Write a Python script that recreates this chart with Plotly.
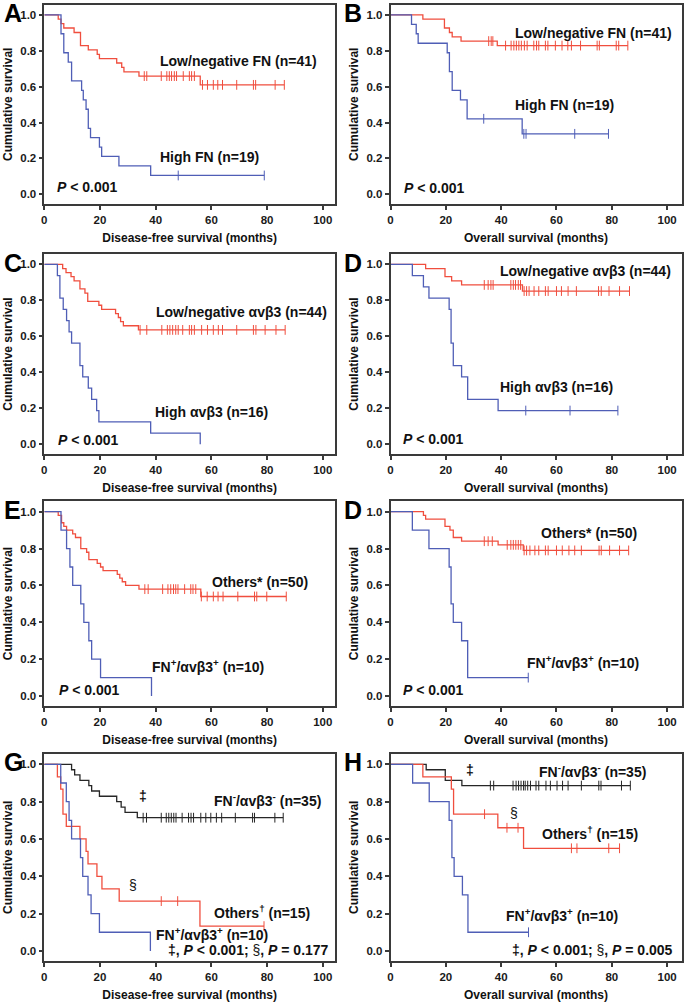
import numpy as np
import plotly.graph_objects as go

# ---------------- data ----------------
# Panel A: disease-free survival by FN
A_low_t = [5, 6, 7, 10.7, 13, 15.8, 19, 19.8, 26, 27.8, 28.6, 34, 56]
A_low_s = [0.976, 0.951, 0.927, 0.902, 0.829, 0.805, 0.780, 0.756, 0.732, 0.707, 0.683, 0.659, 0.610]
A_low_c = [35.9, 36.8, 42.0, 44.0, 44.9, 45.7, 46.7, 47.5, 49.9, 52.1, 52.9, 53.9, 56.8, 58.6,
           60.7, 62.3, 64.0, 69.1, 75.1, 75.9, 82.9, 86.2]
A_high_t = [6, 7, 8.6, 9.8, 13.4, 14, 15, 15.8, 16.6, 19.8, 20.6, 26.8, 38.2]
A_high_s = [0.895, 0.789, 0.737, 0.632, 0.579, 0.526, 0.474, 0.368, 0.316, 0.263, 0.211, 0.158, 0.105]
A_high_c = [48.1, 79.0]

# Panel B: overall survival by FN
B_low_t = [11.7, 19.5, 21.3, 22.3, 25.5, 38.6]
B_low_s = [0.976, 0.927, 0.902, 0.878, 0.854, 0.829]
B_low_c = [35.5, 36.4, 37.0, 41.6, 43.6, 44.6, 45.5, 46.4, 47.3, 48.4, 49.4, 51.8, 52.8, 53.6,
           56.0, 56.9, 59.6, 62.0, 64.1, 65.4, 68.7, 74.7, 75.5, 81.6, 82.5, 85.8]
B_high_t = [7.6, 9.3, 10, 20.5, 21.3, 22.3, 25.3, 27.7, 47.6]
B_high_s = [0.947, 0.895, 0.842, 0.789, 0.684, 0.579, 0.526, 0.421, 0.337]
B_high_c = [33.7, 48.2, 49.0, 66.6, 78.8]

# Panel C: disease-free survival by avb3
C_low_t = [6.6, 7.8, 9.6, 10.7, 12.8, 14.6, 15.6, 19.6, 20.6, 25.6, 26.6, 27.4, 28.4, 33.8]
C_low_s = [0.977, 0.955, 0.932, 0.909, 0.864, 0.841, 0.795, 0.773, 0.750, 0.727, 0.705, 0.682, 0.659, 0.636]
C_low_c = [34.4, 36.8, 42.2, 44.2, 45.1, 46.1, 47.2, 48.1, 49.7, 52.1, 52.9, 53.9, 56.5, 58.6,
           60.7, 62.5, 64.0, 69.1, 75.1, 76.0, 79.3, 83.2, 86.5]
C_high_t = [4.7, 5.6, 6.8, 8.0, 8.9, 9.8, 12.8, 13.8, 15.8, 17.0, 18.8, 19.6, 38.2, 56.0]
C_high_s = [0.9375, 0.8125, 0.75, 0.6875, 0.625, 0.5625, 0.4375, 0.375, 0.3125, 0.25, 0.1875, 0.125, 0.0625, 0.0]
C_high_c = []

# Panel D: overall survival by avb3
D_low_t = [12.7, 19.7, 22.1, 25.7, 47.7]
D_low_s = [0.977, 0.932, 0.909, 0.886, 0.852]
D_low_c = [33.9, 35.3, 36.3, 37.1, 43.5, 44.4, 45.2, 46.2, 47.0, 48.3, 49.2, 50.1, 51.9, 53.6,
           56.0, 57.0, 60.0, 61.8, 64.2, 67.2, 75.2, 76.2, 79.0, 82.8, 86.4]
D_high_t = [7.9, 11.9, 13.9, 21.2, 21.9, 22.7, 25.7, 27.9, 38.9]
D_high_s = [0.9375, 0.875, 0.8125, 0.75, 0.5625, 0.4375, 0.375, 0.25, 0.1875]
D_high_c = [48.9, 64.9, 82.2]

# Panel E: disease-free survival, FN+/avb3+ vs others
E_oth_t = [5.0, 6.2, 7.0, 8.0, 10.2, 11.2, 13.1, 15.2, 16.0, 19.0, 20.2, 21.1, 26.2, 27.1, 28.0, 29.2, 34.0, 56.2]
E_oth_s = [0.98, 0.94, 0.92, 0.90, 0.88, 0.86, 0.80, 0.78, 0.74, 0.72, 0.70, 0.68, 0.66, 0.64, 0.62, 0.60, 0.58, 0.54]
E_oth_c = [36.1, 37.3, 42.5, 44.4, 45.4, 46.4, 47.2, 48.0, 50.4, 52.6, 53.4, 54.4, 56.4, 58.5,
           60.7, 62.4, 64.2, 69.5, 75.5, 76.3, 79.9, 86.9]
E_fn_t = [6.0, 8.0, 9.2, 10.2, 13.1, 14.2, 16.0, 17.0, 20.2, 38.5]
E_fn_s = [0.9, 0.8, 0.7, 0.6, 0.5, 0.4, 0.3, 0.2, 0.1, 0.0]
E_fn_c = []

# Panel F (labelled "D" in the source): overall survival, FN+/avb3+ vs others
F_oth_t = [11.9, 12.7, 19.7, 21.5, 22.7, 25.7, 38.9, 48.0]
F_oth_s = [0.98, 0.96, 0.92, 0.90, 0.86, 0.84, 0.82, 0.79]
F_oth_c = [33.9, 35.3, 36.8, 42.2, 43.5, 44.4, 45.3, 46.2, 47.1, 48.3, 49.2, 50.4, 52.2, 53.6,
           56.0, 57.0, 60.0, 62.1, 64.5, 66.6, 69.0, 75.4, 76.2, 79.2, 82.8, 86.1]
F_fn_t = [7.9, 13.9, 21.2, 21.9, 22.7, 25.7, 27.9]
F_fn_s = [0.9, 0.8, 0.7, 0.5, 0.4, 0.3, 0.1]
F_fn_c = [49.8]

# Panel G: disease-free survival, three groups
G_neg_t = [9.8, 10.9, 12.8, 16.0, 17.0, 19.8, 26.0, 27.6, 29.0, 33.4]
G_neg_s = [0.971, 0.943, 0.914, 0.886, 0.857, 0.829, 0.800, 0.771, 0.743, 0.714]
G_neg_c = [35.5, 36.7, 42.0, 43.8, 44.7, 45.6, 46.5, 47.3, 49.5, 51.8, 52.7, 53.6, 56.2, 58.0,
           59.8, 61.8, 63.7, 68.6, 74.8, 75.5, 82.8, 85.8]
G_oth_t = [4.7, 5.9, 6.7, 7.9, 12.8, 15.0, 15.7, 18.9, 20.7, 26.9, 55.9]
G_oth_s = [0.933, 0.867, 0.733, 0.667, 0.600, 0.533, 0.467, 0.400, 0.333, 0.267, 0.133]
G_oth_c = [42.0, 47.9, 78.9]
G_fn_t = [5.9, 7.9, 8.9, 9.8, 13.0, 13.8, 15.7, 16.8, 19.8, 38.1]
G_fn_s = [0.9, 0.8, 0.7, 0.6, 0.5, 0.4, 0.3, 0.2, 0.1, 0.0]
G_fn_c = []

# Panel H: overall survival, three groups
H_neg_t = [12.9, 19.8, 25.8]
H_neg_s = [0.971, 0.914, 0.886]
H_neg_c = [36.1, 37.3, 44.3, 45.4, 46.3, 47.2, 48.1, 48.7, 49.6, 50.6, 52.6, 53.6, 56.2, 57.8,
           60.2, 62.2, 64.2, 69.0, 75.3, 76.1, 83.5, 86.7]
H_oth_t = [11.7, 22.0, 22.8, 38.8, 48.1]
H_oth_s = [0.933, 0.867, 0.733, 0.660, 0.550]
H_oth_c = [34.0, 42.1, 46.1, 65.4, 67.4, 78.9, 82.8]
H_fn_t = [8.0, 14.0, 21.2, 22.2, 23.0, 26.0, 28.0]
H_fn_s = [0.9, 0.8, 0.7, 0.5, 0.4, 0.3, 0.1]
H_fn_c = [49.9]

x_ticks = [0, 20, 40, 60, 80, 100]
y_ticks = [0.0, 0.2, 0.4, 0.6, 0.8, 1.0]
y_ticklabels = ["0.0", "0.2", "0.4", "0.6", "0.8", "1.0"]
panel_letters = ["A", "B", "C", "D", "E", "D", "G", "H"]
DFS = "Disease-free survival (months)"
OS = "Overall survival (months)"
Y_TITLE = "Cumulative survival"

# ---------------- style ----------------
FONT = "Arial, 'Liberation Sans', Helvetica, sans-serif"
RED = "#F04E3E"
BLUE = "#4F5EB6"
BLACK = "#262626"
AXC = "#3a3a3a"
W, H = 685, 1003

col_px = [(44.3, 335.0), (390.5, 681.5)]
row_px = [(4.5, 204.0), (254.0, 454.0), (501.0, 706.0), (753.5, 961.0)]
x_hi = [104.4, 105.2]
Y_RANGE = [-0.054, 1.058]

FNP = "FN<sup>+</sup>/αvβ3<sup>+</sup> (n=10)"
FNN = "FN<sup>-</sup>/αvβ3<sup>-</sup> (n=35)"
PV = "<b><i>P</i> < 0.001</b>"

panels = [
    dict(xt=DFS, curves=[(A_low_t, A_low_s, A_low_c, RED), (A_high_t, A_high_s, A_high_c, BLUE)],
         labels=[("<b>Low/negative FN (n=41)</b>", 41.0, 0.743, "left"),
                 ("<b>High FN (n=19)</b>", 41.0, 0.207, "left"),
                 (PV, 3.8, 0.039, "left")]),
    dict(xt=OS, curves=[(B_low_t, B_low_s, B_low_c, RED), (B_high_t, B_high_s, B_high_c, BLUE)],
         labels=[("<b>Low/negative FN (n=41)</b>", 44.2, 0.900, "left"),
                 ("<b>High FN (n=19)</b>", 44.2, 0.498, "left"),
                 (PV, 4.0, 0.035, "left")]),
    dict(xt=DFS, curves=[(C_low_t, C_low_s, C_low_c, RED), (C_high_t, C_high_s, C_high_c, BLUE)],
         labels=[("<b>Low/negative αvβ3 (n=44)</b>", 39.4, 0.738, "left"),
                 ("<b>High αvβ3 (n=16)</b>", 39.2, 0.180, "left"),
                 (PV, 4.1, 0.024, "left")]),
    dict(xt=OS, curves=[(D_low_t, D_low_s, D_low_c, RED), (D_high_t, D_high_s, D_high_c, BLUE)],
         labels=[("<b>Low/negative αvβ3 (n=44)</b>", 38.9, 0.963, "left"),
                 ("<b>High αvβ3 (n=16)</b>", 38.9, 0.321, "left"),
                 (PV, 3.8, 0.031, "left")]),
    dict(xt=DFS, curves=[(E_oth_t, E_oth_s, E_oth_c, RED), (E_fn_t, E_fn_s, E_fn_c, BLUE)],
         labels=[("<b>Others* (n=50)</b>", 59.5, 0.621, "left"),
                 ("<b>" + FNP + "</b>", 38.1, 0.165, "left"),
                 (PV, 4.4, 0.033, "left")]),
    dict(xt=OS, curves=[(F_oth_t, F_oth_s, F_oth_c, RED), (F_fn_t, F_fn_s, F_fn_c, BLUE)],
         labels=[("<b>Others* (n=50)</b>", 53.7, 0.882, "left"),
                 ("<b>" + FNP + "</b>", 48.6, 0.187, "left"),
                 (PV, 3.8, 0.033, "left")]),
    dict(xt=DFS, curves=[(G_neg_t, G_neg_s, G_neg_c, BLACK), (G_oth_t, G_oth_s, G_oth_c, RED),
                         (G_fn_t, G_fn_s, G_fn_c, BLUE)],
         labels=[("<b>‡</b>", 35.5, 0.829, "center"),
                 ("<b>" + FNN + "</b>", 60.4, 0.807, "left"),
                 ("§", 32.0, 0.352, "center"),
                 ("<b>Others<sup>†</sup> (n=15)</b>", 60.4, 0.209, "left"),
                 ("<b>" + FNP + "</b>", 39.3, 0.089, "left"),
                 ("<b>‡, <i>P</i> < 0.001; </b>§<b>, <i>P</i> = 0.177</b>", 103.0, 0.004, "right")]),
    dict(xt=OS, curves=[(H_neg_t, H_neg_s, H_neg_c, BLACK), (H_oth_t, H_oth_s, H_oth_c, RED),
                        (H_fn_t, H_fn_s, H_fn_c, BLUE)],
         labels=[("<b>‡</b>", 28.8, 0.970, "center"),
                 ("<b>" + FNN + "</b>", 53.0, 0.966, "left"),
                 ("§", 44.5, 0.737, "center"),
                 ("<b>Others<sup>†</sup> (n=15)</b>", 54.2, 0.633, "left"),
                 ("<b>" + FNP + "</b>", 40.9, 0.195, "left"),
                 ("<b>‡, <i>P</i> < 0.001; </b>§<b>, <i>P</i> = 0.005</b>", 103.0, 0.004, "right")]),
]


def km_path(t, s, c):
    xs = [0.0] + list(t)
    ys = [1.0] + list(s)
    end = max(list(t) + list(c)) if (len(t) or len(c)) else 0
    xs.append(end)
    ys.append(ys[-1])
    return xs, ys


def km_at(t, s, c):
    t = np.asarray(t, float)
    vals = np.concatenate([[1.0], np.asarray(s, float)])
    idx = np.searchsorted(t, np.asarray(c, float), side="right")
    return vals[idx]


fig = go.Figure()
annotations = []
layout_axes = {}

for i, p in enumerate(panels):
    n = i + 1
    col, row = i % 2, i // 2
    xa = "x" if n == 1 else f"x{n}"
    ya = "y" if n == 1 else f"y{n}"
    xkey = "xaxis" if n == 1 else f"xaxis{n}"
    ykey = "yaxis" if n == 1 else f"yaxis{n}"
    x0, x1 = col_px[col]
    top, bot = row_px[row]

    for (t, s, c, color) in p["curves"]:
        xs, ys = km_path(t, s, c)
        fig.add_trace(go.Scatter(x=xs, y=ys, mode="lines", xaxis=xa, yaxis=ya,
                                 line=dict(color=color, width=1.3, shape="hv"),
                                 hoverinfo="skip", showlegend=False))
        if len(c):
            fig.add_trace(go.Scatter(x=list(c), y=list(km_at(t, s, c)), mode="markers",
                                     xaxis=xa, yaxis=ya,
                                     marker=dict(symbol="line-ns-open", size=7, color=color,
                                                 line=dict(width=1, color=color)),
                                     hoverinfo="skip", showlegend=False))

    common = dict(showline=True, linecolor=AXC, linewidth=1.5, mirror=True,
                  ticks="outside", ticklen=4, tickwidth=1.5, tickcolor=AXC,
                  showgrid=False, zeroline=False, automargin=False,
                  tickfont=dict(family=FONT, size=11.5, color="#1a1a1a", weight="bold"))
    layout_axes[xkey] = dict(common, domain=[x0 / W, x1 / W], range=[0, x_hi[col]],
                             anchor=ya, tickvals=x_ticks,
                             title=dict(text=p["xt"], standoff=9,
                                        font=dict(family=FONT, size=12, color="#111", weight="bold")))
    layout_axes[ykey] = dict(common, domain=[1 - bot / H, 1 - top / H], range=Y_RANGE,
                             anchor=xa, tickvals=y_ticks, ticktext=y_ticklabels,
                             title=dict(text=Y_TITLE, standoff=5,
                                        font=dict(family=FONT, size=12, color="#111", weight="bold")))

    for (txt, lx, ly, anc) in p["labels"]:
        annotations.append(dict(text=txt, x=lx, y=ly, xref=xa, yref=ya, xanchor=anc,
                                yanchor="middle", showarrow=False,
                                font=dict(family=FONT, size=14, color="#111")))

    annotations.append(dict(text="<b>" + panel_letters[i] + "</b>",
                            x=(2 if col == 0 else 342) / W, y=1 - (top + 8.5) / H,
                            xref="paper", yref="paper", xanchor="left", yanchor="middle",
                            showarrow=False,
                            font=dict(family=FONT, size=25, color="#000")))

fig.update_layout(width=W, height=H, margin=dict(l=0, r=0, t=0, b=0, autoexpand=False),
                  paper_bgcolor="white", plot_bgcolor="white",
                  font=dict(family=FONT, color="#111"),
                  annotations=annotations, showlegend=False, **layout_axes)

fig.write_html("out.html", config={"displayModeBar": False},
               post_script="document.body.style.margin='0px';document.body.style.padding='0px';")
